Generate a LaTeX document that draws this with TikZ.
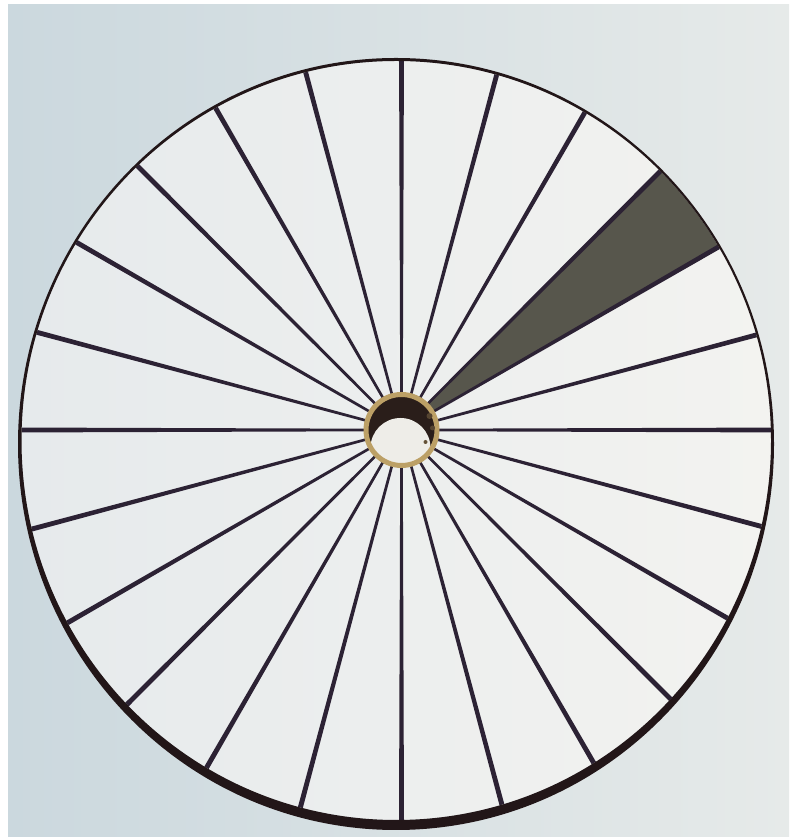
\documentclass[tikz,border=0pt]{standalone}
\usetikzlibrary{calc}
\begin{document}
\begin{tikzpicture}[x=1pt,y=1pt]
\definecolor{paperL}{HTML}{CBD8DE}
\definecolor{paperR}{HTML}{E6EAE9}
\definecolor{insideL}{HTML}{E6EAEC}
\definecolor{insideR}{HTML}{F3F3F0}
\definecolor{ink}{HTML}{2C2234}
\definecolor{rimink}{HTML}{221618}
\definecolor{wedgec}{HTML}{57564C}
\definecolor{gold}{HTML}{BCA066}
\definecolor{hole}{HTML}{2A1E1A}
\definecolor{holelight}{HTML}{EEEDE8}
\tikzset{spoke/.style={fill=ink},
         ringstyle/.style={fill=rimink, even odd rule},
         wedgestyle/.style={fill=wedgec}}
\useasboundingbox (0,0) rectangle (789,837);
\fill[white] (0,0) rectangle (789,837);
\shade[left color=paperL, right color=paperR] (8,0) rectangle (789,832);
\coordinate (c) at (396.25,396.5);
\coordinate (hub) at (401.5,407);
% inside of wheel
\shade[left color=insideL, right color=insideR] (c) ellipse [x radius=374.75, y radius=379.5];
\begin{scope}
  \clip (c) ellipse [x radius=374.75, y radius=379.5];
  \begin{scope}[shift={(hub)}]
    \fill[wedgestyle] (30:36) -- (30:600) -- (45:600) -- (45:36) -- cycle;
    \foreach \a in {0,15,...,345}{
      \fill[spoke, rotate=\a] (34,-1.3) -- (540,-3) -- (540,3) -- (34,1.3) -- cycle;
    }
  \end{scope}
\end{scope}
% outer ring (thin on top, thick at bottom)
\fill[ringstyle] (396,393) ellipse [x radius=378, y radius=386]
                 (c) ellipse [x radius=374.75, y radius=379.5];
% hub hole
\fill[hole] (hub) circle (35);
\begin{scope}
  \clip (hub) circle (35);
  \fill[holelight] ($(hub)+(-1,-18)$) circle (30);
\end{scope}
\draw[gold, line width=5] (hub) circle (35.5);
\fill[hole!70!gold] ($(hub)+(28,14)$) circle (3);
\fill[hole!70!gold] ($(hub)+(31,2)$) circle (2.5);
\fill[hole!60!gold] ($(hub)+(24,-12)$) circle (2);
\end{tikzpicture}
\end{document}
